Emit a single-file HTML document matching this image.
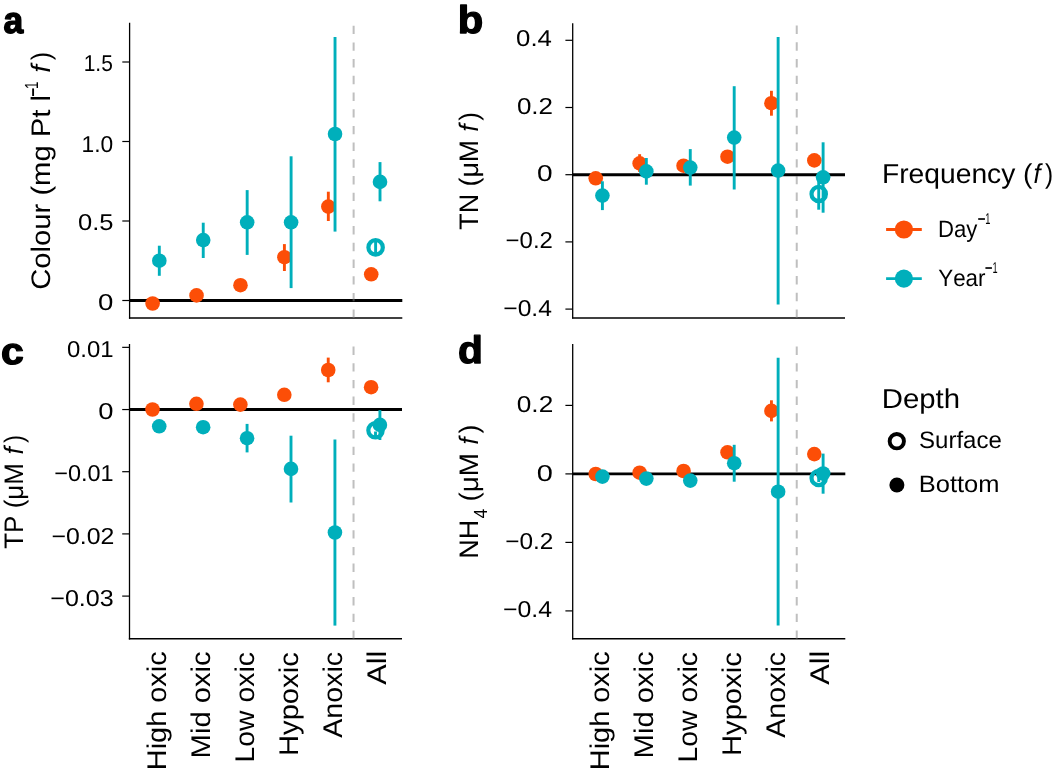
<!DOCTYPE html><html><head><meta charset="utf-8"><style>html,body{margin:0;padding:0;background:#fff;}svg{display:block;will-change:transform;}text{font-family:"Liberation Sans", sans-serif;font-kerning:none;text-rendering:geometricPrecision;}</style></head><body>
<svg width="1053" height="771" viewBox="0 0 1053 771">
<rect width="1053" height="771" fill="#fff"/>
<line x1="129.6" y1="300.5" x2="402.3" y2="300.5" stroke="#000" stroke-width="2.9"/>
<line x1="129.6" y1="22.8" x2="129.6" y2="318.65" stroke="#000" stroke-width="1.3"/>
<line x1="128.95" y1="318" x2="402.3" y2="318" stroke="#000" stroke-width="1.5"/>
<line x1="353.64" y1="318" x2="353.64" y2="22.8" stroke="#808080" stroke-opacity="0.5" stroke-width="2" stroke-dasharray="8.4 8.3"/>
<line x1="122.3" y1="62" x2="129.6" y2="62" stroke="#000" stroke-width="1.2"/>
<g transform="translate(83.71,71) scale(0.91,1)" fill="#000"><text x="0" y="0" style="font-size:23px;">1.5</text></g>
<line x1="122.3" y1="141.5" x2="129.6" y2="141.5" stroke="#000" stroke-width="1.2"/>
<g transform="translate(81.57,152) scale(0.99,1)" fill="#000"><text x="0" y="0" style="font-size:23px;">1.0</text></g>
<line x1="122.3" y1="221" x2="129.6" y2="221" stroke="#000" stroke-width="1.2"/>
<g transform="translate(78.01,230) scale(1.11,1)" fill="#000"><text x="0" y="0" style="font-size:23px;">0.5</text></g>
<line x1="122.3" y1="300.5" x2="129.6" y2="300.5" stroke="#000" stroke-width="1.2"/>
<g transform="translate(98.12,310) scale(1.2,1)" fill="#000"><text x="0" y="0" style="font-size:23px;">0</text></g>
<circle cx="152.61" cy="303.5" r="7.3" fill="#FC4E07"/>
<circle cx="196.54" cy="295.4" r="7.3" fill="#FC4E07"/>
<circle cx="240.47" cy="285.2" r="7.3" fill="#FC4E07"/>
<line x1="284.4" y1="244.1" x2="284.4" y2="271" stroke="#FC4E07" stroke-width="2.9"/>
<circle cx="284.4" cy="257.2" r="7.3" fill="#FC4E07"/>
<line x1="328.33" y1="191.7" x2="328.33" y2="221" stroke="#FC4E07" stroke-width="2.9"/>
<circle cx="328.33" cy="206.6" r="7.3" fill="#FC4E07"/>
<circle cx="371.21" cy="274.3" r="7.3" fill="#FC4E07"/>
<line x1="375.61" y1="240.5" x2="375.61" y2="254.5" stroke="#00AFBB" stroke-width="2.9"/>
<circle cx="375.61" cy="247.4" r="7.2" fill="none" stroke="#00AFBB" stroke-width="4.2"/>
<line x1="159.31" y1="245.7" x2="159.31" y2="275.8" stroke="#00AFBB" stroke-width="2.9"/>
<circle cx="159.31" cy="260.7" r="7.3" fill="#00AFBB"/>
<line x1="203.24" y1="222.7" x2="203.24" y2="258" stroke="#00AFBB" stroke-width="2.9"/>
<circle cx="203.24" cy="240.1" r="7.3" fill="#00AFBB"/>
<line x1="247.17" y1="190.1" x2="247.17" y2="254.9" stroke="#00AFBB" stroke-width="2.9"/>
<circle cx="247.17" cy="222.3" r="7.3" fill="#00AFBB"/>
<line x1="291.1" y1="156.3" x2="291.1" y2="288.1" stroke="#00AFBB" stroke-width="2.9"/>
<circle cx="291.1" cy="222.3" r="7.3" fill="#00AFBB"/>
<line x1="335.03" y1="37" x2="335.03" y2="231.6" stroke="#00AFBB" stroke-width="2.9"/>
<circle cx="335.03" cy="134" r="7.3" fill="#00AFBB"/>
<line x1="380.01" y1="162.1" x2="380.01" y2="201.3" stroke="#00AFBB" stroke-width="2.9"/>
<circle cx="380.01" cy="181.9" r="7.3" fill="#00AFBB"/>
<line x1="572.7" y1="174.7" x2="845" y2="174.7" stroke="#000" stroke-width="2.9"/>
<line x1="572.7" y1="23.3" x2="572.7" y2="318.55" stroke="#000" stroke-width="1.3"/>
<line x1="572.05" y1="317.9" x2="845" y2="317.9" stroke="#000" stroke-width="1.5"/>
<line x1="796.74" y1="317.9" x2="796.74" y2="23.3" stroke="#808080" stroke-opacity="0.5" stroke-width="2" stroke-dasharray="8.4 8.3"/>
<line x1="565.4" y1="40.3" x2="572.7" y2="40.3" stroke="#000" stroke-width="1.2"/>
<g transform="translate(516.1,46) scale(1.12,1)" fill="#000"><text x="0" y="0" style="font-size:23px;">0.4</text></g>
<line x1="565.4" y1="107.5" x2="572.7" y2="107.5" stroke="#000" stroke-width="1.2"/>
<g transform="translate(516.88,114) scale(1.13,1)" fill="#000"><text x="0" y="0" style="font-size:23px;">0.2</text></g>
<line x1="565.4" y1="174.7" x2="572.7" y2="174.7" stroke="#000" stroke-width="1.2"/>
<g transform="translate(537.11,181) scale(1.22,1)" fill="#000"><text x="0" y="0" style="font-size:23px;">0</text></g>
<line x1="565.4" y1="241.9" x2="572.7" y2="241.9" stroke="#000" stroke-width="1.2"/>
<g transform="translate(505.62,248) scale(1.04,1)" fill="#000"><text x="0" y="0" style="font-size:23px;">−0.2</text></g>
<line x1="565.4" y1="309.1" x2="572.7" y2="309.1" stroke="#000" stroke-width="1.2"/>
<g transform="translate(503.29,316) scale(1.07,1)" fill="#000"><text x="0" y="0" style="font-size:23px;">−0.4</text></g>
<circle cx="595.71" cy="178.3" r="7.3" fill="#FC4E07"/>
<line x1="639.64" y1="154.2" x2="639.64" y2="172" stroke="#FC4E07" stroke-width="2.9"/>
<circle cx="639.64" cy="163.4" r="7.3" fill="#FC4E07"/>
<circle cx="683.57" cy="165.7" r="7.3" fill="#FC4E07"/>
<circle cx="727.5" cy="156.7" r="7.3" fill="#FC4E07"/>
<line x1="771.43" y1="90.8" x2="771.43" y2="115.7" stroke="#FC4E07" stroke-width="2.9"/>
<circle cx="771.43" cy="103.2" r="7.3" fill="#FC4E07"/>
<circle cx="814.31" cy="160.4" r="7.3" fill="#FC4E07"/>
<line x1="818.71" y1="178" x2="818.71" y2="209.7" stroke="#00AFBB" stroke-width="2.9"/>
<circle cx="818.71" cy="194" r="7.2" fill="none" stroke="#00AFBB" stroke-width="4.2"/>
<line x1="602.41" y1="181.3" x2="602.41" y2="210.1" stroke="#00AFBB" stroke-width="2.9"/>
<circle cx="602.41" cy="195.6" r="7.3" fill="#00AFBB"/>
<line x1="646.34" y1="158" x2="646.34" y2="184.7" stroke="#00AFBB" stroke-width="2.9"/>
<circle cx="646.34" cy="171.4" r="7.3" fill="#00AFBB"/>
<line x1="690.27" y1="149.1" x2="690.27" y2="185.6" stroke="#00AFBB" stroke-width="2.9"/>
<circle cx="690.27" cy="167.6" r="7.3" fill="#00AFBB"/>
<line x1="734.2" y1="86.2" x2="734.2" y2="189.5" stroke="#00AFBB" stroke-width="2.9"/>
<circle cx="734.2" cy="137.6" r="7.3" fill="#00AFBB"/>
<line x1="778.13" y1="37" x2="778.13" y2="304.5" stroke="#00AFBB" stroke-width="2.9"/>
<circle cx="778.13" cy="170.6" r="7.3" fill="#00AFBB"/>
<line x1="823.11" y1="142.3" x2="823.11" y2="212.7" stroke="#00AFBB" stroke-width="2.9"/>
<circle cx="823.11" cy="177.3" r="7.3" fill="#00AFBB"/>
<line x1="129.5" y1="409.55" x2="402" y2="409.55" stroke="#000" stroke-width="2.9"/>
<line x1="129.5" y1="344.1" x2="129.5" y2="639.45" stroke="#000" stroke-width="1.3"/>
<line x1="128.85" y1="638.8" x2="402" y2="638.8" stroke="#000" stroke-width="1.5"/>
<line x1="353.54" y1="638.8" x2="353.54" y2="344.1" stroke="#808080" stroke-opacity="0.5" stroke-width="2" stroke-dasharray="8.4 8.3"/>
<line x1="122.2" y1="347.35" x2="129.5" y2="347.35" stroke="#000" stroke-width="1.2"/>
<g transform="translate(67.07,357) scale(1.04,1)" fill="#000"><text x="0" y="0" style="font-size:23px;">0.01</text></g>
<line x1="122.2" y1="409.55" x2="129.5" y2="409.55" stroke="#000" stroke-width="1.2"/>
<g transform="translate(98.23,419) scale(1.19,1)" fill="#000"><text x="0" y="0" style="font-size:23px;">0</text></g>
<line x1="122.2" y1="471.7" x2="129.5" y2="471.7" stroke="#000" stroke-width="1.2"/>
<g transform="translate(54.25,481) scale(1.02,1)" fill="#000"><text x="0" y="0" style="font-size:23px;">−0.01</text></g>
<line x1="122.2" y1="533.9" x2="129.5" y2="533.9" stroke="#000" stroke-width="1.2"/>
<g transform="translate(51.48,544) scale(1.08,1)" fill="#000"><text x="0" y="0" style="font-size:23px;">−0.02</text></g>
<line x1="122.2" y1="596.1" x2="129.5" y2="596.1" stroke="#000" stroke-width="1.2"/>
<g transform="translate(50.26,606) scale(1.09,1)" fill="#000"><text x="0" y="0" style="font-size:23px;">−0.03</text></g>
<circle cx="152.51" cy="409.5" r="7.3" fill="#FC4E07"/>
<circle cx="196.44" cy="403.8" r="7.3" fill="#FC4E07"/>
<circle cx="240.37" cy="404.6" r="7.3" fill="#FC4E07"/>
<circle cx="284.3" cy="394.8" r="7.3" fill="#FC4E07"/>
<line x1="328.23" y1="357.6" x2="328.23" y2="382.3" stroke="#FC4E07" stroke-width="2.9"/>
<circle cx="328.23" cy="370" r="7.3" fill="#FC4E07"/>
<circle cx="371.11" cy="387.2" r="7.3" fill="#FC4E07"/>
<line x1="375.51" y1="431.5" x2="375.51" y2="437" stroke="#00AFBB" stroke-width="2.9"/>
<circle cx="375.51" cy="430.3" r="7.2" fill="none" stroke="#00AFBB" stroke-width="4.2"/>
<circle cx="159.21" cy="426.3" r="7.3" fill="#00AFBB"/>
<circle cx="203.14" cy="427.2" r="7.3" fill="#00AFBB"/>
<line x1="247.07" y1="423.9" x2="247.07" y2="452.4" stroke="#00AFBB" stroke-width="2.9"/>
<circle cx="247.07" cy="438.2" r="7.3" fill="#00AFBB"/>
<line x1="291" y1="435.7" x2="291" y2="502.5" stroke="#00AFBB" stroke-width="2.9"/>
<circle cx="291" cy="468.9" r="7.3" fill="#00AFBB"/>
<line x1="334.93" y1="439.5" x2="334.93" y2="625.6" stroke="#00AFBB" stroke-width="2.9"/>
<circle cx="334.93" cy="532.5" r="7.3" fill="#00AFBB"/>
<line x1="379.91" y1="410.1" x2="379.91" y2="440" stroke="#00AFBB" stroke-width="2.9"/>
<circle cx="379.91" cy="424.9" r="7.3" fill="#00AFBB"/>
<line x1="572.7" y1="473.9" x2="845.3" y2="473.9" stroke="#000" stroke-width="2.9"/>
<line x1="572.7" y1="344" x2="572.7" y2="639.45" stroke="#000" stroke-width="1.3"/>
<line x1="572.05" y1="638.8" x2="845.3" y2="638.8" stroke="#000" stroke-width="1.5"/>
<line x1="796.74" y1="638.8" x2="796.74" y2="344" stroke="#808080" stroke-opacity="0.5" stroke-width="2" stroke-dasharray="8.4 8.3"/>
<line x1="565.4" y1="405.4" x2="572.7" y2="405.4" stroke="#000" stroke-width="1.2"/>
<g transform="translate(516.78,412) scale(1.14,1)" fill="#000"><text x="0" y="0" style="font-size:23px;">0.2</text></g>
<line x1="565.4" y1="473.9" x2="572.7" y2="473.9" stroke="#000" stroke-width="1.2"/>
<g transform="translate(536.76,481) scale(1.26,1)" fill="#000"><text x="0" y="0" style="font-size:23px;">0</text></g>
<line x1="565.4" y1="542.4" x2="572.7" y2="542.4" stroke="#000" stroke-width="1.2"/>
<g transform="translate(505.3,549) scale(1.06,1)" fill="#000"><text x="0" y="0" style="font-size:23px;">−0.2</text></g>
<line x1="565.4" y1="610.9" x2="572.7" y2="610.9" stroke="#000" stroke-width="1.2"/>
<g transform="translate(502.98,617) scale(1.08,1)" fill="#000"><text x="0" y="0" style="font-size:23px;">−0.4</text></g>
<circle cx="595.71" cy="474" r="7.3" fill="#FC4E07"/>
<circle cx="639.64" cy="472.7" r="7.3" fill="#FC4E07"/>
<circle cx="683.57" cy="471" r="7.3" fill="#FC4E07"/>
<circle cx="727.5" cy="452.3" r="7.3" fill="#FC4E07"/>
<line x1="771.43" y1="400.3" x2="771.43" y2="421.4" stroke="#FC4E07" stroke-width="2.9"/>
<circle cx="771.43" cy="410.9" r="7.3" fill="#FC4E07"/>
<circle cx="814.31" cy="454.1" r="7.3" fill="#FC4E07"/>
<line x1="818.71" y1="474" x2="818.71" y2="482" stroke="#00AFBB" stroke-width="2.9"/>
<circle cx="818.71" cy="478" r="7.2" fill="none" stroke="#00AFBB" stroke-width="4.2"/>
<circle cx="602.41" cy="476.6" r="7.3" fill="#00AFBB"/>
<circle cx="646.34" cy="478.6" r="7.3" fill="#00AFBB"/>
<circle cx="690.27" cy="480.6" r="7.3" fill="#00AFBB"/>
<line x1="734.2" y1="444.8" x2="734.2" y2="481.7" stroke="#00AFBB" stroke-width="2.9"/>
<circle cx="734.2" cy="463.2" r="7.3" fill="#00AFBB"/>
<line x1="778.13" y1="357.7" x2="778.13" y2="625.6" stroke="#00AFBB" stroke-width="2.9"/>
<circle cx="778.13" cy="491.7" r="7.3" fill="#00AFBB"/>
<line x1="823.11" y1="453.6" x2="823.11" y2="493.7" stroke="#00AFBB" stroke-width="2.9"/>
<circle cx="823.11" cy="473.5" r="7.3" fill="#00AFBB"/>
<g transform="translate(165.96,770.16) rotate(-90) scale(1.07,1)" fill="#000"><text x="0" y="0" style="font-size:27px;">High&#160;oxic</text></g>
<g transform="translate(209.89,758.38) rotate(-90) scale(1.08,1)" fill="#000"><text x="0" y="0" style="font-size:27px;">Mid&#160;oxic</text></g>
<g transform="translate(253.82,762.43) rotate(-90) scale(1.05,1)" fill="#000"><text x="0" y="0" style="font-size:27px;">Low&#160;oxic</text></g>
<g transform="translate(297.75,756) rotate(-90) scale(1.08,1)" fill="#000"><text x="0" y="0" style="font-size:27px;">Hypoxic</text></g>
<g transform="translate(341.68,737.76) rotate(-90) scale(1.06,1)" fill="#000"><text x="0" y="0" style="font-size:27px;">Anoxic</text></g>
<g transform="translate(385.61,684.76) rotate(-90) scale(1.14,1)" fill="#000"><text x="0" y="0" style="font-size:27px;">All</text></g>
<g transform="translate(609.16,770.16) rotate(-90) scale(1.07,1)" fill="#000"><text x="0" y="0" style="font-size:27px;">High&#160;oxic</text></g>
<g transform="translate(653.09,758.38) rotate(-90) scale(1.08,1)" fill="#000"><text x="0" y="0" style="font-size:27px;">Mid&#160;oxic</text></g>
<g transform="translate(697.02,762.43) rotate(-90) scale(1.05,1)" fill="#000"><text x="0" y="0" style="font-size:27px;">Low&#160;oxic</text></g>
<g transform="translate(740.95,756) rotate(-90) scale(1.08,1)" fill="#000"><text x="0" y="0" style="font-size:27px;">Hypoxic</text></g>
<g transform="translate(784.88,737.76) rotate(-90) scale(1.06,1)" fill="#000"><text x="0" y="0" style="font-size:27px;">Anoxic</text></g>
<g transform="translate(828.81,684.76) rotate(-90) scale(1.14,1)" fill="#000"><text x="0" y="0" style="font-size:27px;">All</text></g>
<text transform="translate(50,289.78) rotate(-90) scale(1.09,1)" x="0" y="0" style="font-size:26.8px;" fill="#000">Colour&#160;(mg&#160;Pt&#160;l</text>
<text transform="translate(50,96.67) rotate(-90) scale(0.58,1)" x="0" y="-8.05" style="font-size:26.8px;" fill="#000">−</text>
<text transform="translate(50,89.12) rotate(-90) scale(0.71,1)" x="0" y="-12.1" style="font-size:19px;" fill="#000">1</text>
<text transform="translate(50,72.75) rotate(-90) scale(1.05,1)" x="0" y="0" style="font-size:26.8px;font-style:italic;" fill="#000">f</text>
<text transform="translate(50,60.25) rotate(-90) scale(0.93,1)" x="0" y="0" style="font-size:26.8px;" fill="#000">)</text>
<text transform="translate(477.9,229.7) rotate(-90) scale(1,1)" x="0" y="0" style="font-size:26.8px;" fill="#000">TN&#160;(μM</text>
<text transform="translate(477.9,131.8) rotate(-90) scale(0.99,1)" x="0" y="0" style="font-size:26.8px;font-style:italic;" fill="#000">f</text>
<text transform="translate(477.9,120.65) rotate(-90) scale(0.97,1)" x="0" y="0" style="font-size:26.8px;" fill="#000">)</text>
<text transform="translate(22.9,548.78) rotate(-90) scale(0.97,1)" x="0" y="0" style="font-size:26.8px;" fill="#000">TP&#160;(μM</text>
<text transform="translate(22.9,454.6) rotate(-90) scale(0.99,1)" x="0" y="0" style="font-size:26.8px;font-style:italic;" fill="#000">f</text>
<text transform="translate(22.9,443.04) rotate(-90) scale(0.91,1)" x="0" y="0" style="font-size:26.8px;" fill="#000">)</text>
<text transform="translate(477.9,558.82) rotate(-90) scale(1.01,1)" x="0" y="0" style="font-size:26.8px;" fill="#000">NH</text>
<text transform="translate(477.9,518.4) rotate(-90) scale(0.92,1)" x="0" y="9.2" style="font-size:19px;" fill="#000">4</text>
<text transform="translate(477.9,501.52) rotate(-90) scale(1.04,1)" x="0" y="0" style="font-size:26.8px;" fill="#000">(μM</text>
<text transform="translate(477.9,444.56) rotate(-90) scale(0.95,1)" x="0" y="0" style="font-size:26.8px;font-style:italic;" fill="#000">f</text>
<text transform="translate(477.9,433.45) rotate(-90) scale(0.99,1)" x="0" y="0" style="font-size:26.8px;" fill="#000">)</text>
<g transform="translate(3.57,33.44) scale(0.95,1)"><text x="0" y="0" style="font-size:37.24px;font-weight:bold" stroke="#000" stroke-width="1.48" stroke-linejoin="round">a</text></g>
<g transform="translate(457.84,33.42) scale(1.08,1)"><text x="0" y="0" style="font-size:38.67px;font-weight:bold" stroke="#000" stroke-width="1.29" stroke-linejoin="round">b</text></g>
<g transform="translate(0.91,363.54) scale(1.1,1)"><text x="0" y="0" style="font-size:37.24px;font-weight:bold" stroke="#000" stroke-width="1.28" stroke-linejoin="round">c</text></g>
<g transform="translate(458.12,363.23) scale(1.06,1)"><text x="0" y="0" style="font-size:38.4px;font-weight:bold" stroke="#000" stroke-width="1.32" stroke-linejoin="round">d</text></g>
<text transform="translate(881.99,182.8) scale(1.03,1)" x="0" y="0" style="font-size:27.4px;" fill="#000">Frequency&#160;(</text>
<text transform="translate(1033.44,182.8) scale(0.93,1)" x="0" y="0" style="font-size:27.4px;font-style:italic;" fill="#000">f</text>
<text transform="translate(1044.96,182.8) scale(0.89,1)" x="0" y="0" style="font-size:27.4px;" fill="#000">)</text>
<line x1="886.1" y1="229.5" x2="921.8" y2="229.5" stroke="#FC4E07" stroke-width="2.85"/>
<circle cx="903.9" cy="229.5" r="9.1" fill="#FC4E07"/>
<line x1="886.1" y1="278.6" x2="921.8" y2="278.6" stroke="#00AFBB" stroke-width="2.85"/>
<circle cx="903.9" cy="278.6" r="9.1" fill="#00AFBB"/>
<text transform="translate(938.07,236.8) scale(0.93,1)" x="0" y="0" style="font-size:23.8px;" fill="#000">Day</text>
<text transform="translate(977.51,236.8) scale(0.58,1)" x="0" y="-9.9" style="font-size:24px;" fill="#000">−</text>
<text transform="translate(985.19,236.8) scale(0.59,1)" x="0" y="-12.9" style="font-size:15.7px;" fill="#000">1</text>
<text transform="translate(938.21,285.6) scale(0.94,1)" x="0" y="0" style="font-size:23.8px;" fill="#000">Year</text>
<text transform="translate(984.84,285.6) scale(0.56,1)" x="0" y="-9.8" style="font-size:24px;" fill="#000">−</text>
<text transform="translate(992.49,285.6) scale(0.59,1)" x="0" y="-12.6" style="font-size:15.6px;" fill="#000">1</text>
<text transform="translate(881.81,408.1) scale(1.07,1)" x="0" y="0" style="font-size:27.4px;" fill="#000">Depth</text>
<circle cx="896.8" cy="441.2" r="7.15" fill="none" stroke="#000" stroke-width="3.9"/>
<circle cx="896.9" cy="485.0" r="7.5" fill="#000"/>
<text transform="translate(919,447.6) scale(1.01,1)" x="0" y="0" style="font-size:23.8px;" fill="#000">Surface</text>
<text transform="translate(918.82,491.8) scale(1.07,1)" x="0" y="0" style="font-size:23.8px;" fill="#000">Bottom</text>
</svg></body></html>
